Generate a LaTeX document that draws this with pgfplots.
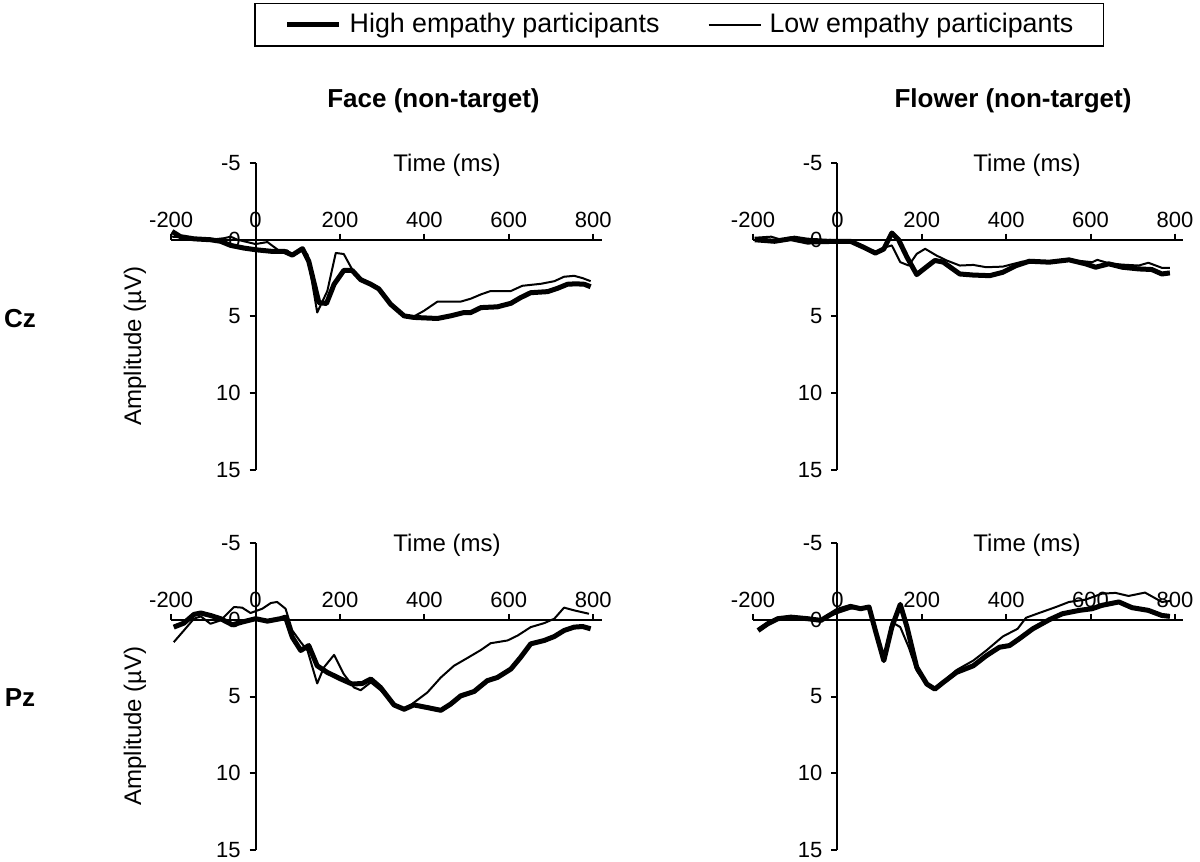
\documentclass[border=0pt]{standalone}
\usepackage{fontspec}
\setmainfont{Liberation Sans}
\usepackage{pgfplots}
\pgfplotsset{compat=1.18}

\tikzset{
  high/.style={black, line width=2.5pt, line join=round},
  low/.style={black, line width=1pt, line join=round},
}
\pgfplotsset{erp/.style={
  scale only axis, width=215.2pt, height=153.5pt,
  xmin=-200, xmax=820, ymin=-5, ymax=15, y dir=reverse,
  axis x line=middle, axis y line=middle,
  axis line style={-, line width=1pt},
  enlargelimits=false, clip=false,
  xtick={-200,0,200,400,600,800}, ytick={-5,0,5,10,15},
  hide obscured x ticks=false, hide obscured y ticks=false,
  tick align=outside, major tick length=3pt,
  tick style={line width=1pt, black},
  /pgf/number format/assume math mode=true,
  tick label style={font=\fontsize{11}{13}\selectfont},
  xticklabel style={anchor=base, yshift=9.3pt, inner sep=0pt},
  yticklabel style={anchor=east, xshift=-4.3pt, inner sep=0pt},
}}

\begin{document}
\begin{tikzpicture}
\useasboundingbox (0,0) rectangle (600pt,431pt);

% Face, Cz
\begin{axis}[erp, at={(85.6pt,196pt)}, anchor=south west,
  legend columns=2,
  legend image code/.code={\draw[#1] (0pt,0pt) -- (26pt,0pt);},
  legend style={at={(axis description cs:1.18,1.451)}, anchor=center,
    draw=black, line width=0.8pt, font=\fontsize{13.4}{16}\selectfont,
    inner xsep=15pt, inner ysep=5pt, nodes={inner sep=0pt},
    /tikz/every odd column/.append style={column sep=4pt},
    /tikz/every even column/.append style={column sep=24pt}}]
\addplot[high] coordinates {(-198,-0.54) (-178,-0.2) (-146,-0.06) (-107,0) (-83,0.1) (-59,0.37) (-28,0.54) (0,0.65) (36,0.75) (67,0.75) (87,1.0) (111,0.58) (126,1.4) (150,4.1) (168,4.15) (186,2.9) (209,2.0) (229,2.0) (249,2.6) (273,2.9) (292,3.2) (320,4.2) (352,4.96) (375,5.06) (431,5.13) (462,4.96) (494,4.74) (510,4.74) (534,4.42) (573,4.37) (605,4.14) (628,3.77) (652,3.45) (692,3.38) (715,3.17) (739,2.9) (759,2.87) (779,2.9) (794,3.06)};
\addlegendentry{High empathy participants}
\addplot[low] coordinates {(-198,-0.2) (-146,-0.1) (-107,0) (-75,-0.1) (-59,-0.2) (-43,0) (0,0.28) (28,0.15) (55,0.7) (75,0.7) (87,0.97) (111,0.58) (123,0.97) (146,4.74) (170,3.34) (190,0.86) (209,0.93) (229,1.94) (249,2.6) (289,3.2) (320,4.2) (352,4.96) (375,5.0) (399,4.63) (431,4.03) (486,4.03) (510,3.84) (534,3.56) (557,3.34) (605,3.34) (632,3.0) (676,2.87) (708,2.7) (731,2.41) (755,2.35) (775,2.5) (794,2.7)};
\addlegendentry{Low empathy participants}
\end{axis}

% Flower, Cz
\begin{axis}[erp, at={(376.5pt,196pt)}, anchor=south west]
\addplot[high] coordinates {(-196,0) (-149,0.1) (-110,-0.07) (-71,0.15) (0,0.1) (31,0.1) (63,0.5) (90,0.87) (110,0.6) (129,-0.44) (145,0) (165,1.14) (188,2.27) (212,1.75) (231,1.35) (251,1.46) (290,2.23) (322,2.3) (361,2.34) (392,2.12) (424,1.68) (455,1.4) (502,1.46) (549,1.31) (588,1.57) (612,1.79) (643,1.57) (675,1.79) (714,1.9) (745,1.94) (769,2.23) (788,2.16)};
\addplot[low] coordinates {(-196,-0.13) (-157,-0.2) (-133,0) (-102,-0.2) (-71,-0.07) (0,0.04) (31,0.1) (63,0.5) (90,0.87) (110,0.52) (129,0.37) (149,1.46) (169,1.68) (188,0.92) (208,0.59) (235,1.03) (259,1.35) (290,1.68) (322,1.64) (353,1.79) (392,1.75) (439,1.42) (502,1.46) (549,1.31) (604,1.46) (616,1.31) (643,1.53) (675,1.62) (714,1.68) (737,1.5) (769,1.83) (788,1.83)};
\end{axis}

% Face, Pz
\begin{axis}[erp, at={(85.6pt,6pt)}, anchor=south west]
\addplot[high] coordinates {(-194,0.48) (-170,0.22) (-146,-0.35) (-130,-0.44) (-107,-0.28) (-83,-0.07) (-55,0.33) (-32,0.15) (0,-0.07) (28,0.09) (59,-0.07) (71,-0.17) (87,1.14) (107,2.0) (126,1.68) (146,3.0) (170,3.43) (202,3.86) (229,4.19) (253,4.15) (273,3.86) (296,4.41) (328,5.55) (352,5.83) (375,5.55) (407,5.72) (439,5.9) (462,5.5) (486,4.96) (518,4.67) (549,3.97) (573,3.76) (605,3.21) (628,2.45) (652,1.57) (684,1.35) (708,1.09) (731,0.7) (755,0.48) (775,0.44) (794,0.59)};
\addplot[low] coordinates {(-194,1.46) (-170,0.7) (-146,-0.07) (-130,-0.22) (-107,0.26) (-83,0.04) (-51,-0.83) (-32,-0.79) (-12,-0.44) (16,-0.72) (36,-1.09) (51,-1.16) (71,-0.72) (87,0.7) (107,1.46) (123,2.0) (146,4.15) (162,3.1) (186,2.29) (209,3.54) (233,4.41) (249,4.59) (273,4.08) (296,4.59) (328,5.55) (352,5.9) (375,5.4) (407,4.74) (439,3.76) (470,3.0) (502,2.49) (534,1.97) (557,1.53) (597,1.35) (621,1.03) (652,0.48) (684,0.22) (708,-0.07) (731,-0.79) (755,-0.61) (790,-0.39)};
\end{axis}

% Flower, Pz
\begin{axis}[erp, at={(376.5pt,6pt)}, anchor=south west]
\addplot[high] coordinates {(-188,0.7) (-165,0.26) (-141,-0.07) (-110,-0.17) (-71,-0.07) (-39,0.04) (0,-0.61) (31,-0.87) (55,-0.72) (75,-0.83) (90,0.7) (110,2.66) (129,0.48) (149,-1.0) (165,0.48) (188,3.1) (212,4.19) (231,4.52) (251,4.08) (282,3.43) (322,3.0) (353,2.34) (384,1.79) (408,1.68) (431,1.24) (463,0.59) (502,0) (533,-0.39) (573,-0.61) (604,-0.72) (627,-0.94) (667,-1.16) (698,-0.79) (737,-0.61) (769,-0.28) (788,-0.22)};
\addplot[low] coordinates {(-188,0.59) (-157,0.04) (-110,-0.22) (-71,-0.13) (-39,0) (0,-0.44) (31,-0.72) (55,-0.79) (75,-0.83) (90,0.81) (110,2.55) (129,0.15) (149,0.48) (169,1.79) (188,3.32) (212,4.24) (231,4.46) (251,4.02) (282,3.28) (322,2.66) (353,2.0) (392,1.09) (427,0.59) (447,-0.13) (478,-0.44) (518,-0.83) (549,-1.16) (588,-1.31) (627,-1.7) (659,-1.75) (690,-1.55) (729,-1.77) (769,-1.16) (788,-1.22)};
\end{axis}

% titles and labels
\node[font=\fontsize{13}{15}\selectfont\bfseries] at (216.75pt,380.5pt) {Face (non-target)};
\node[font=\fontsize{13}{15}\selectfont\bfseries] at (506.5pt,380.5pt) {Flower (non-target)};
\node[font=\fontsize{13}{15}\selectfont\bfseries] at (10pt,271.5pt) {Cz};
\node[font=\fontsize{13}{15}\selectfont\bfseries] at (10pt,82pt) {Pz};
\node[font=\fontsize{12}{14}\selectfont, rotate=90] at (67.5pt,258pt) {Amplitude (µV)};
\node[font=\fontsize{12}{14}\selectfont, rotate=90] at (67.5pt,68pt) {Amplitude (µV)};
\node[font=\fontsize{12}{14}\selectfont] at (223.5pt,348.5pt) {Time (ms)};
\node[font=\fontsize{12}{14}\selectfont] at (513.5pt,348.5pt) {Time (ms)};
\node[font=\fontsize{12}{14}\selectfont] at (223.5pt,158.5pt) {Time (ms)};
\node[font=\fontsize{12}{14}\selectfont] at (513.5pt,158.5pt) {Time (ms)};
\end{tikzpicture}
\end{document}
